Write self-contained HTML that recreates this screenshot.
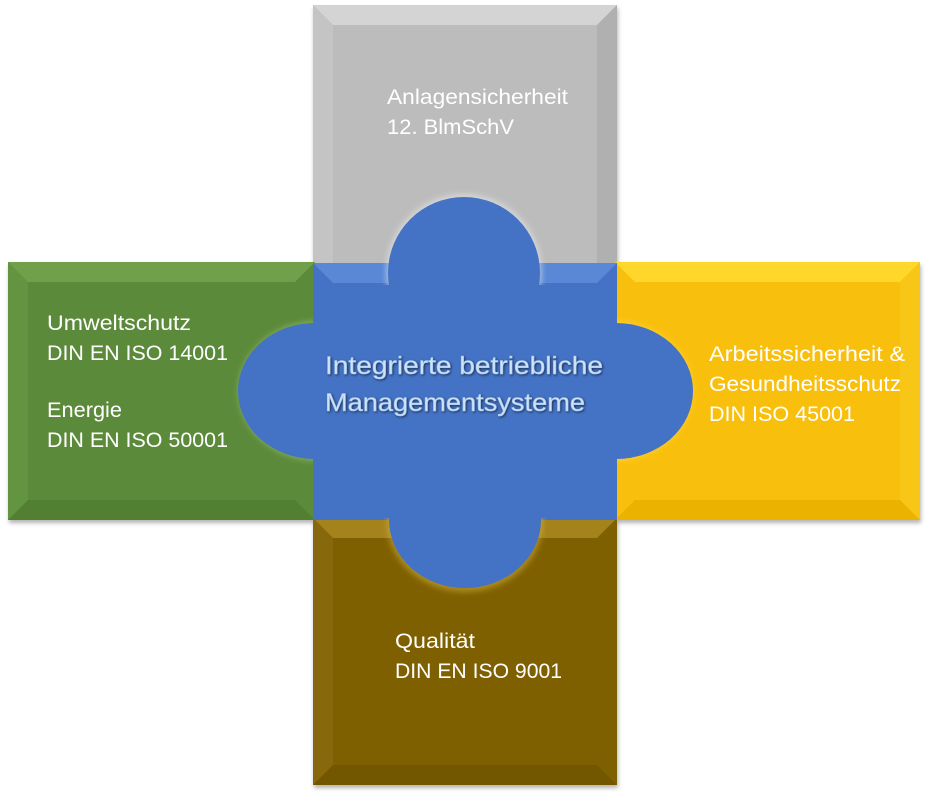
<!DOCTYPE html>
<html><head><meta charset="utf-8"><style>html,body{margin:0;padding:0;background:#fff}svg{display:block}</style></head>
<body>
<svg width="929" height="793" viewBox="0 0 929 793" xmlns="http://www.w3.org/2000/svg" font-family="Liberation Sans, sans-serif">
<defs>
<filter id="sh" x="-10%" y="-10%" width="120%" height="120%"><feGaussianBlur in="SourceAlpha" stdDeviation="2"/><feOffset dx="1" dy="3"/><feComponentTransfer><feFuncA type="linear" slope="0.3"/></feComponentTransfer><feMerge><feMergeNode/><feMergeNode in="SourceGraphic"/></feMerge></filter>
<filter id="ts"><feGaussianBlur in="SourceAlpha" stdDeviation="1.2"/><feOffset dx="1" dy="1"/><feComponentTransfer><feFuncA type="linear" slope="0.6"/></feComponentTransfer><feMerge><feMergeNode/><feMergeNode in="SourceGraphic"/></feMerge></filter>
<filter id="bl"><feGaussianBlur stdDeviation="3"/></filter>
</defs>
<g filter="url(#sh)">
<rect x="313" y="5" width="304" height="260" fill="#bcbcbc"/>
<polygon points="313,5 617,5 597,25 333,25" fill="#d4d4d4"/>
<polygon points="313,5 333,25 333,265 313,265" fill="#c4c4c4"/>
<polygon points="617,5 597,25 597,265 617,265" fill="#b0b0b0"/>
<rect x="8" y="262" width="307" height="258" fill="#5b8a3a"/>
<polygon points="8,262 315,262 295,282 28,282" fill="#70a04a"/>
<polygon points="8,262 28,282 28,500 8,520" fill="#639440"/>
<polygon points="8,520 28,500 295,500 315,520" fill="#527f33"/>
<rect x="615" y="262" width="305" height="258" fill="#f9bf0a"/>
<polygon points="615,262 920,262 900,282 635,282" fill="#ffd62a"/>
<polygon points="920,262 900,282 900,500 920,520" fill="#f7c618"/>
<polygon points="615,520 635,500 900,500 920,520" fill="#ecb200"/>
<rect x="313" y="518" width="304" height="267" fill="#7f6006"/>
<polygon points="313,518 617,518 597,538 333,538" fill="#a5831a"/>
<polygon points="313,518 333,538 333,765 313,785" fill="#87670b"/>
<polygon points="313,785 333,765 597,765 617,785" fill="#735604"/>
<rect x="313" y="263" width="304" height="257" fill="#4472c4"/>
<polygon points="313,263 617,263 597,283 333,283" fill="#5a88d6"/>
</g>
<g filter="url(#bl)">
<ellipse cx="465" cy="522" rx="78" ry="70" fill="#d8b840" opacity="0.5"/>
<ellipse cx="317" cy="391" rx="79" ry="70" fill="#a8d880" opacity="0.45"/>
<ellipse cx="614" cy="391" rx="79" ry="70" fill="#ffe060" opacity="0.45"/>
<ellipse cx="464" cy="272" rx="78" ry="78" fill="#f0f0f0" opacity="0.5"/>
</g>
<g fill="#4472c4">
<ellipse cx="464" cy="273" rx="76" ry="76"/>
<ellipse cx="465" cy="520" rx="76" ry="68"/>
<ellipse cx="315" cy="391" rx="77" ry="68"/>
<ellipse cx="616" cy="391" rx="77" ry="68"/>
<rect x="313" y="285" width="304" height="233"/>
</g>
<g fill="#ffffff" font-size="21">
<text x="387" y="104" textLength="181" lengthAdjust="spacingAndGlyphs">Anlagensicherheit</text>
<text x="387" y="134" textLength="127" lengthAdjust="spacingAndGlyphs">12. BlmSchV</text>
<text x="47" y="330" textLength="144" lengthAdjust="spacingAndGlyphs">Umweltschutz</text>
<text x="47" y="360" textLength="181" lengthAdjust="spacingAndGlyphs">DIN EN ISO 14001</text>
<text x="47" y="417" textLength="75" lengthAdjust="spacingAndGlyphs">Energie</text>
<text x="47" y="447" textLength="181" lengthAdjust="spacingAndGlyphs">DIN EN ISO 50001</text>
<text x="709" y="361" textLength="196" lengthAdjust="spacingAndGlyphs">Arbeitssicherheit &amp;</text>
<text x="709" y="391" textLength="192" lengthAdjust="spacingAndGlyphs">Gesundheitsschutz</text>
<text x="709" y="421" textLength="146" lengthAdjust="spacingAndGlyphs">DIN ISO 45001</text>
<text x="395" y="648" textLength="80" lengthAdjust="spacingAndGlyphs">Qualität</text>
<text x="395" y="678" textLength="167" lengthAdjust="spacingAndGlyphs">DIN EN ISO 9001</text>
</g>
<g fill="#cfe2f7" stroke="#9cc0ea" stroke-width="0.5" font-size="25" filter="url(#ts)">
<text x="325" y="374" textLength="278" lengthAdjust="spacingAndGlyphs">Integrierte betriebliche</text>
<text x="325" y="411" textLength="260" lengthAdjust="spacingAndGlyphs">Managementsysteme</text>
</g>
</svg>
</body></html>
